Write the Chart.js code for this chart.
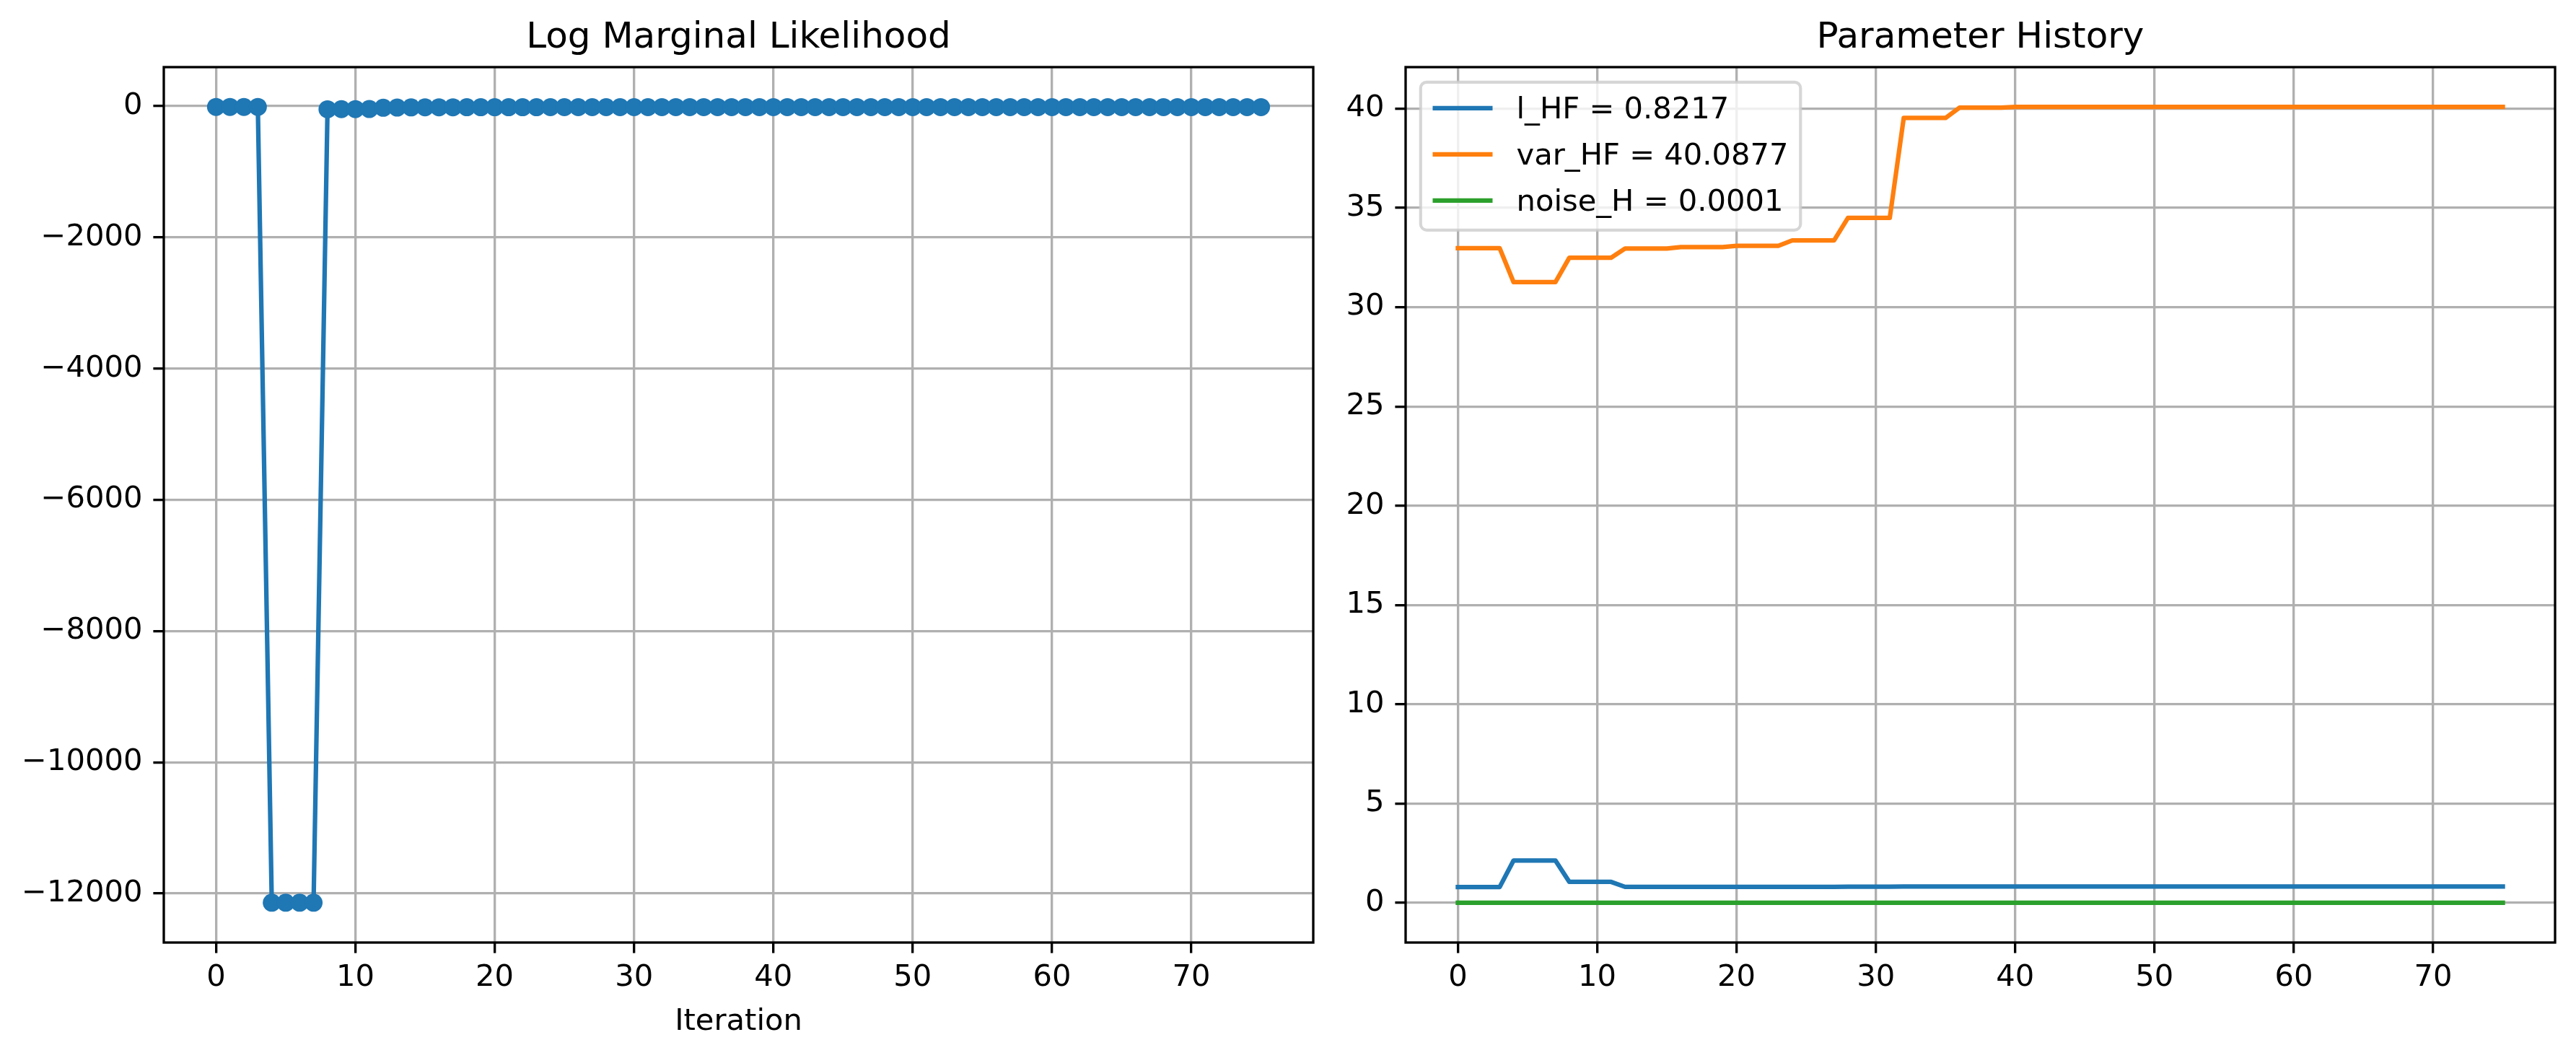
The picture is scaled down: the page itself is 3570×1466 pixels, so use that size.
<!DOCTYPE html>
<html>
<head>
<meta charset="utf-8">
<script src="https://cdn.jsdelivr.net/npm/chart.js@4.4.1/dist/chart.umd.min.js"></script>
<style>
  html, body { margin: 0; padding: 0; background: #fff; }
  canvas { position: absolute; left: 0; top: 0; }
</style>
</head>
<body>
<canvas id="lmlChart" width="3570" height="1466"></canvas>
<canvas id="paramChart" width="3570" height="1466"></canvas>
<script>
// Datos
const iterations = [
  0, 1, 2, 3, 4, 5, 6, 7, 8, 9, 10, 11, 12, 13, 14, 15, 16, 17, 18, 19,
  20, 21, 22, 23, 24, 25, 26, 27, 28, 29, 30, 31, 32, 33, 34, 35, 36, 37, 38, 39,
  40, 41, 42, 43, 44, 45, 46, 47, 48, 49, 50, 51, 52, 53, 54, 55, 56, 57, 58, 59,
  60, 61, 62, 63, 64, 65, 66, 67, 68, 69, 70, 71, 72, 73, 74, 75
];

const logLik = [
  -12, -12, -13, -12, -12140, -12140, -12140, -12140, -48, -46, -45, -44, -25, -22, -20, -19, -18, -18, -17, -17,
  -17, -17, -17, -17, -16, -16, -16, -16, -16, -16, -16, -16, -15, -15, -15, -15, -15, -15, -15, -15,
  -15, -15, -15, -15, -15, -15, -15, -15, -15, -15, -15, -15, -15, -15, -15, -15, -15, -15, -15, -15,
  -15, -15, -15, -15, -15, -15, -15, -15, -15, -15, -15, -15, -15, -15, -15, -15
];

const lHF = [
  0.79, 0.79, 0.79, 0.79, 2.13, 2.13, 2.13, 2.13, 1.05, 1.05, 1.05, 1.05, 0.80, 0.80, 0.80, 0.80, 0.80, 0.80, 0.80, 0.80,
  0.80, 0.80, 0.80, 0.80, 0.80, 0.80, 0.80, 0.80, 0.81, 0.81, 0.81, 0.81, 0.82, 0.82, 0.82, 0.82, 0.8217, 0.8217, 0.8217, 0.8217,
  0.8217, 0.8217, 0.8217, 0.8217, 0.8217, 0.8217, 0.8217, 0.8217, 0.8217, 0.8217, 0.8217, 0.8217, 0.8217, 0.8217, 0.8217, 0.8217, 0.8217, 0.8217, 0.8217, 0.8217,
  0.8217, 0.8217, 0.8217, 0.8217, 0.8217, 0.8217, 0.8217, 0.8217, 0.8217, 0.8217, 0.8217, 0.8217, 0.8217, 0.8217, 0.8217, 0.8217
];

const varHF = [
  32.97, 32.97, 32.97, 32.97, 31.26, 31.26, 31.26, 31.26, 32.49, 32.49, 32.49, 32.49, 32.95, 32.95, 32.95, 32.95, 33.03, 33.03, 33.03, 33.03,
  33.09, 33.09, 33.09, 33.09, 33.36, 33.36, 33.36, 33.36, 34.50, 34.50, 34.50, 34.50, 39.53, 39.53, 39.53, 39.53, 40.05, 40.05, 40.05, 40.05,
  40.0877, 40.0877, 40.0877, 40.0877, 40.0877, 40.0877, 40.0877, 40.0877, 40.0877, 40.0877, 40.0877, 40.0877, 40.0877, 40.0877, 40.0877, 40.0877, 40.0877, 40.0877, 40.0877, 40.0877,
  40.0877, 40.0877, 40.0877, 40.0877, 40.0877, 40.0877, 40.0877, 40.0877, 40.0877, 40.0877, 40.0877, 40.0877, 40.0877, 40.0877, 40.0877, 40.0877
];

const noiseH = [
  0.0001, 0.0001, 0.0001, 0.0001, 0.0001, 0.0001, 0.0001, 0.0001, 0.0001, 0.0001, 0.0001, 0.0001, 0.0001, 0.0001, 0.0001, 0.0001, 0.0001, 0.0001, 0.0001, 0.0001,
  0.0001, 0.0001, 0.0001, 0.0001, 0.0001, 0.0001, 0.0001, 0.0001, 0.0001, 0.0001, 0.0001, 0.0001, 0.0001, 0.0001, 0.0001, 0.0001, 0.0001, 0.0001, 0.0001, 0.0001,
  0.0001, 0.0001, 0.0001, 0.0001, 0.0001, 0.0001, 0.0001, 0.0001, 0.0001, 0.0001, 0.0001, 0.0001, 0.0001, 0.0001, 0.0001, 0.0001, 0.0001, 0.0001, 0.0001, 0.0001,
  0.0001, 0.0001, 0.0001, 0.0001, 0.0001, 0.0001, 0.0001, 0.0001, 0.0001, 0.0001, 0.0001, 0.0001, 0.0001, 0.0001, 0.0001, 0.0001
];

const seriesLabels = ['l_HF = 0.8217', 'var_HF = 40.0877', 'noise_H = 0.0001'];

const xTicks = [0, 10, 20, 30, 40, 50, 60, 70];
const leftYTicks = [-12000, -10000, -8000, -6000, -4000, -2000, 0];
const rightYTicks = [0, 5, 10, 15, 20, 25, 30, 35, 40];

// Estilos
const FONT = 'DejaVu Sans';
const BLUE = '#1f77b4';
const ORANGE = '#ff7f0e';
const GREEN = '#2ca02c';
const GRID = '#b0b0b0';
const LW = 6.25;
const THIN = 3.33;

// margenes tipo matplotlib (5%)
const padRange = (arr) => {
  const lo = Math.min(...arr), hi = Math.max(...arr);
  const m = (hi - lo) * 0.05;
  return [lo - m, hi + m];
};
const [xMin, xMax] = padRange(iterations);
const [lMin, lMax] = padRange(logLik);
const [rMin, rMax] = padRange([...lHF, ...varHF, ...noiseH]);

const fmt = (v) => v < 0 ? '\u2212' + Math.abs(v) : String(v);
const toXY = (ys) => iterations.map((x, i) => ({ x, y: ys[i] }));

const gridOpts = {
  color: GRID,
  lineWidth: THIN,
  drawTicks: true,
  tickColor: '#000',
  tickWidth: THIN,
  tickLength: 14.6
};
const tickFont = { family: FONT, size: 41.67, lineHeight: 1.2 };

const xScale = (withTitle) => ({
  type: 'linear',
  min: xMin,
  max: xMax,
  afterBuildTicks: (s) => { s.ticks = xTicks.map(v => ({ value: v })); },
  afterFit: (s) => { s.height = 160; },
  grid: gridOpts,
  border: { display: false },
  ticks: { color: '#000', font: tickFont, padding: 10, maxRotation: 0, autoSkip: false, callback: fmt },
  title: {
    display: withTitle,
    text: 'Iteration',
    color: '#000',
    font: tickFont,
    padding: { top: 0, bottom: 25 }
  }
});

const yScale = (min, max, ticks, width) => ({
  type: 'linear',
  min: min,
  max: max,
  afterBuildTicks: (s) => { s.ticks = ticks.map(v => ({ value: v })); },
  afterFit: (s) => { s.width = width; },
  grid: gridOpts,
  border: { display: false },
  ticks: { color: '#000', font: tickFont, padding: 15, autoSkip: false, callback: fmt }
});

const titleOpts = (text) => ({
  display: true,
  text: text,
  color: '#000',
  font: { family: FONT, size: 50, weight: 'normal', lineHeight: 1.2 },
  padding: { top: 23, bottom: 10 },
  fullSize: false
});

// marco de los 4 ejes
const frameSpines = {
  id: 'frameSpines',
  afterDatasetsDraw(chart) {
    const { ctx, chartArea: a } = chart;
    ctx.save();
    ctx.strokeStyle = '#000';
    ctx.lineWidth = THIN;
    ctx.lineJoin = 'miter';
    ctx.strokeRect(a.left, a.top, a.right - a.left, a.bottom - a.top);
    ctx.restore();
  }
};

// leyenda dentro del area del grafico (arriba a la izquierda)
const innerLegend = {
  id: 'innerLegend',
  afterDraw(chart) {
    const { ctx, chartArea: a } = chart;
    const sets = chart.data.datasets;
    ctx.save();
    ctx.font = `41.67px "${FONT}"`;
    const textW = Math.max(...sets.map(d => ctx.measureText(d.label).width));
    const x0 = a.left + 20.8, y0 = a.top + 20.8;
    const w = 16.7 + 83 + 33 + textW + 16.7;
    const h = 205;
    const r = 8.3;

    ctx.beginPath();
    ctx.moveTo(x0 + r, y0);
    ctx.lineTo(x0 + w - r, y0);
    ctx.arcTo(x0 + w, y0, x0 + w, y0 + r, r);
    ctx.lineTo(x0 + w, y0 + h - r);
    ctx.arcTo(x0 + w, y0 + h, x0 + w - r, y0 + h, r);
    ctx.lineTo(x0 + r, y0 + h);
    ctx.arcTo(x0, y0 + h, x0, y0 + h - r, r);
    ctx.lineTo(x0, y0 + r);
    ctx.arcTo(x0, y0, x0 + r, y0, r);
    ctx.closePath();
    ctx.fillStyle = 'rgba(255,255,255,0.8)';
    ctx.fill();
    ctx.strokeStyle = 'rgba(204,204,204,0.8)';
    ctx.lineWidth = 4.17;
    ctx.stroke();

    sets.forEach((d, i) => {
      const cy = y0 + 36 + i * 64;
      ctx.strokeStyle = d.borderColor;
      ctx.lineWidth = LW;
      ctx.lineCap = 'butt';
      ctx.beginPath();
      ctx.moveTo(x0 + 16.7, cy);
      ctx.lineTo(x0 + 16.7 + 83, cy);
      ctx.stroke();
      ctx.fillStyle = '#000';
      ctx.textBaseline = 'alphabetic';
      ctx.textAlign = 'left';
      ctx.fillText(d.label, x0 + 16.7 + 83 + 33, cy + 14);
    });
    ctx.restore();
  }
};

const lineSet = (label, ys, color, radius) => ({
  label: label,
  data: toXY(ys),
  borderColor: color,
  backgroundColor: color,
  borderWidth: LW,
  borderJoinStyle: 'round',
  borderCapStyle: 'square',
  pointRadius: radius,
  pointHoverRadius: radius,
  pointBorderWidth: 0,
  pointBackgroundColor: color,
  tension: 0,
  fill: false
});

// Grafico izquierdo
new Chart(document.getElementById('lmlChart'), {
  type: 'line',
  data: {
    datasets: [lineSet('Log Marginal Likelihood', logLik, BLUE, 12.5)]
  },
  options: {
    responsive: false,
    animation: false,
    devicePixelRatio: 1,
    layout: { padding: { left: 0, top: 0, right: 1750, bottom: 0 } },
    plugins: {
      legend: { display: false },
      tooltip: { enabled: false },
      title: titleOpts('Log Marginal Likelihood')
    },
    scales: {
      x: xScale(true),
      y: yScale(lMin, lMax, leftYTicks, 227)
    }
  },
  plugins: [frameSpines]
});

// Grafico derecho
new Chart(document.getElementById('paramChart'), {
  type: 'line',
  data: {
    datasets: [
      lineSet(seriesLabels[0], lHF, BLUE, 0),
      lineSet(seriesLabels[1], varHF, ORANGE, 0),
      lineSet(seriesLabels[2], noiseH, GREEN, 0)
    ]
  },
  options: {
    responsive: false,
    animation: false,
    devicePixelRatio: 1,
    layout: { padding: { left: 1840, top: 0, right: 29, bottom: 0 } },
    plugins: {
      legend: { display: false },
      tooltip: { enabled: false },
      title: titleOpts('Parameter History')
    },
    scales: {
      x: xScale(false),
      y: yScale(rMin, rMax, rightYTicks, 108)
    }
  },
  plugins: [frameSpines, innerLegend]
});
</script>
</body>
</html>
